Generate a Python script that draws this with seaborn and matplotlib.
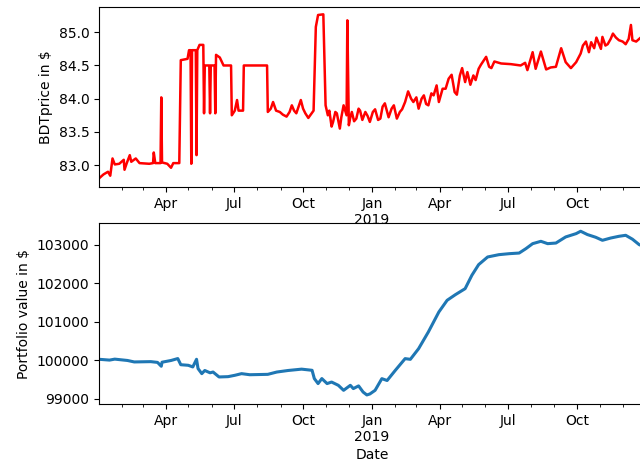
import pandas as pd
import matplotlib
matplotlib.use("Agg")
import matplotlib.pyplot as plt
import matplotlib.dates as mdates
from matplotlib.ticker import FuncFormatter, ScalarFormatter
import seaborn as sns

# --- data ---
price_dates = [
    "2018-01-02", "2018-01-08", "2018-01-14", "2018-01-17", "2018-01-20", "2018-01-23",
    "2018-01-29", "2018-02-04", "2018-02-05", "2018-02-08", "2018-02-12", "2018-02-14",
    "2018-02-20", "2018-02-25", "2018-03-10", "2018-03-15", "2018-03-16", "2018-03-18",
    "2018-03-25", "2018-03-26", "2018-03-27", "2018-04-03", "2018-04-08", "2018-04-11",
    "2018-04-19", "2018-04-21", "2018-04-30", "2018-05-02", "2018-05-04", "2018-05-05",
    "2018-05-06", "2018-05-11", "2018-05-12", "2018-05-13", "2018-05-16", "2018-05-21",
    "2018-05-22", "2018-05-23", "2018-05-29", "2018-05-30", "2018-05-31", "2018-06-05",
    "2018-06-06", "2018-06-07", "2018-06-12", "2018-06-15", "2018-06-17", "2018-06-27",
    "2018-06-28", "2018-07-02", "2018-07-05", "2018-07-07", "2018-07-13", "2018-07-14",
    "2018-08-14", "2018-08-15", "2018-08-19", "2018-08-22", "2018-08-26", "2018-08-31",
    "2018-09-04", "2018-09-09", "2018-09-13", "2018-09-16", "2018-09-19", "2018-09-22",
    "2018-09-28", "2018-10-01", "2018-10-04", "2018-10-08", "2018-10-15",
    "2018-10-18", "2018-10-21", "2018-10-28", "2018-10-31", "2018-11-03", "2018-11-05",
    "2018-11-08", "2018-11-10", "2018-11-13", "2018-11-15", "2018-11-19", "2018-11-21",
    "2018-11-24", "2018-11-28", "2018-11-29", "2018-12-01", "2018-12-03", "2018-12-05",
    "2018-12-08", "2018-12-11", "2018-12-14", "2018-12-16", "2018-12-19", "2018-12-23",
    "2018-12-26", "2018-12-29", "2019-01-02", "2019-01-05", "2019-01-09",
    "2019-01-12", "2019-01-15", "2019-01-18", "2019-01-23", "2019-01-27", "2019-01-30",
    "2019-02-03", "2019-02-07", "2019-02-10", "2019-02-14", "2019-02-18", "2019-02-22",
    "2019-02-25", "2019-03-01", "2019-03-04", "2019-03-08", "2019-03-11", "2019-03-14",
    "2019-03-17", "2019-03-21", "2019-03-24", "2019-03-28", "2019-03-31", "2019-04-05",
    "2019-04-09", "2019-04-13", "2019-04-17", "2019-04-21", "2019-04-24", "2019-04-28",
    "2019-05-01", "2019-05-05", "2019-05-08", "2019-05-12", "2019-05-16", "2019-05-19",
    "2019-05-23", "2019-05-26", "2019-06-02", "2019-06-06", "2019-06-09", "2019-06-13",
    "2019-06-22", "2019-07-05", "2019-07-18", "2019-07-24", "2019-07-27", "2019-08-03",
    "2019-08-07", "2019-08-14", "2019-08-21", "2019-08-27", "2019-09-03", "2019-09-10",
    "2019-09-16", "2019-09-23", "2019-09-30", "2019-10-06", "2019-10-09", "2019-10-13",
    "2019-10-17", "2019-10-20", "2019-10-24", "2019-10-27", "2019-11-02", "2019-11-04",
    "2019-11-08", "2019-11-11", "2019-11-15", "2019-11-18", "2019-11-22", "2019-11-26",
    "2019-12-01", "2019-12-05", "2019-12-09", "2019-12-12", "2019-12-14", "2019-12-19",
    "2019-12-25", "2019-12-31",
]
price_values = [
    82.80, 82.86, 82.90, 82.84, 83.10, 83.01,
    83.02, 83.08, 82.93, 83.03, 83.15, 83.05,
    83.10, 83.03, 83.02, 83.03, 83.19, 83.03,
    83.03, 84.02, 83.04, 83.02, 82.96, 83.03,
    83.03, 84.58, 84.60, 84.73, 84.73, 83.02,
    84.73, 84.73, 83.15, 84.73, 84.81, 84.81,
    83.78, 84.50, 84.50, 83.78, 84.50, 84.50,
    83.78, 84.66, 84.62, 84.55, 84.50, 84.50,
    83.75, 83.82, 83.98, 83.82, 83.82, 84.50,
    84.50, 83.80, 83.85, 83.95, 83.82, 83.80,
    83.76, 83.73, 83.80, 83.90, 83.82, 83.78,
    83.98, 83.85, 83.78, 83.71, 83.82,
    85.08, 85.26, 85.27, 83.90, 83.75, 83.82,
    83.58, 83.65, 83.80, 83.78, 83.55, 83.72,
    83.90, 83.75, 85.18, 83.60, 83.72, 83.80,
    83.66, 83.70, 83.85, 83.82, 83.68, 83.80,
    83.74, 83.65, 83.80, 83.84, 83.68,
    83.70, 83.88, 83.93, 83.72, 83.85, 83.90,
    83.70, 83.80, 83.84, 83.95, 84.11, 84.00,
    83.95, 84.02, 83.85, 84.00, 84.05, 83.92,
    83.90, 84.08, 84.05, 84.20, 83.95, 84.15,
    84.15, 84.30, 84.36, 84.10, 84.06, 84.35,
    84.46, 84.25, 84.40, 84.21, 84.35, 84.28,
    84.45, 84.51, 84.63, 84.48, 84.46, 84.56,
    84.53, 84.52, 84.50, 84.54, 84.43, 84.70,
    84.45, 84.71, 84.44, 84.47, 84.48, 84.76,
    84.55, 84.46, 84.55, 84.68, 84.80, 84.86,
    84.70, 84.85, 84.76, 84.92, 84.75, 84.93,
    84.80, 84.82, 84.90, 84.98, 84.92, 84.88,
    84.86, 84.82, 84.90, 85.11, 84.88, 84.86,
    84.92, 84.90,
]

portfolio_dates = [
    "2018-01-02", "2018-01-16", "2018-01-23", "2018-02-09", "2018-02-18", "2018-03-12",
    "2018-03-21", "2018-03-26", "2018-03-27", "2018-04-08", "2018-04-17", "2018-04-21",
    "2018-05-01", "2018-05-07", "2018-05-12", "2018-05-14", "2018-05-19", "2018-05-23",
    "2018-05-30", "2018-06-03", "2018-06-11", "2018-06-23", "2018-07-02", "2018-07-11",
    "2018-07-22", "2018-08-15", "2018-08-27", "2018-09-11", "2018-09-29", "2018-10-13",
    "2018-10-16", "2018-10-21", "2018-10-26", "2018-11-02", "2018-11-08", "2018-11-17",
    "2018-11-24", "2018-12-03", "2018-12-07", "2018-12-14", "2018-12-20", "2018-12-25",
    "2018-12-29", "2019-01-05", "2019-01-14", "2019-01-21", "2019-02-01", "2019-02-14",
    "2019-02-21", "2019-03-04", "2019-03-17", "2019-03-31", "2019-04-11", "2019-04-22",
    "2019-05-05", "2019-05-14", "2019-05-23", "2019-06-04", "2019-06-19", "2019-07-03",
    "2019-07-16", "2019-07-25", "2019-08-03", "2019-08-14", "2019-08-23", "2019-09-03",
    "2019-09-16", "2019-09-30", "2019-10-06", "2019-10-15", "2019-10-26", "2019-11-04",
    "2019-11-15", "2019-11-26", "2019-12-05", "2019-12-14", "2019-12-23", "2019-12-31",
]
portfolio_values = [
    100031, 100010, 100035, 100000, 99962, 99970,
    99950, 99850, 99955, 100000, 100050, 99890,
    99875, 99832, 100031, 99790, 99658, 99740,
    99680, 99700, 99572, 99580, 99615, 99658,
    99630, 99640, 99700, 99740, 99775, 99745,
    99530, 99400, 99530, 99400, 99440, 99355,
    99225, 99355, 99270, 99340, 99180, 99105,
    99130, 99225, 99528, 99480, 99745, 100048,
    100030, 100307, 100741, 101260, 101563, 101709,
    101865, 102213, 102489, 102688, 102748, 102774,
    102790, 102904, 103034, 103095, 103034, 103050,
    103208, 103295, 103356, 103270, 103200, 103121,
    103180, 103225, 103251, 103150, 103008, 102950,
]

df_price = pd.DataFrame({"Date": pd.to_datetime(price_dates), "BDTprice": price_values})
df_port = pd.DataFrame({"Date": pd.to_datetime(portfolio_dates), "Portfolio": portfolio_values})

fig = plt.figure(figsize=(6.4, 4.65), dpi=100)
ax1 = fig.add_axes([0.1547, 0.5978, 0.8534, 0.3871])
ax2 = fig.add_axes([0.1547, 0.1312, 0.8534, 0.3892])

sns.lineplot(data=df_price, x="Date", y="BDTprice", ax=ax1, color="red", linewidth=1.8)
sns.lineplot(data=df_port, x="Date", y="Portfolio", ax=ax2, color="#1f77b4", linewidth=2.2)


def month_label(x, pos):
    d = mdates.num2date(x)
    if d.month == 1:
        return d.strftime("%b\n%Y")
    return d.strftime("%b")


for ax in (ax1, ax2):
    ax.set_xlim(pd.Timestamp("2018-01-02"), pd.Timestamp("2019-12-31"))
    ax.xaxis.set_major_locator(mdates.MonthLocator(bymonth=[1, 4, 7, 10]))
    ax.xaxis.set_minor_locator(mdates.MonthLocator())
    ax.xaxis.set_major_formatter(FuncFormatter(month_label))
    ax.tick_params(axis="x", which="minor", length=2)

ax1.set_ylim(82.67, 85.38)
ax1.set_ylabel("BDTprice in $")
ax1.set_xlabel("")

ax2.set_ylim(98870, 103570)
fmt = ScalarFormatter(useOffset=False)
fmt.set_scientific(False)
ax2.yaxis.set_major_formatter(fmt)
ax2.set_ylabel("Portfolio value in $")
ax2.set_xlabel("Date", labelpad=3)

fig.savefig("out.png", dpi=100)
